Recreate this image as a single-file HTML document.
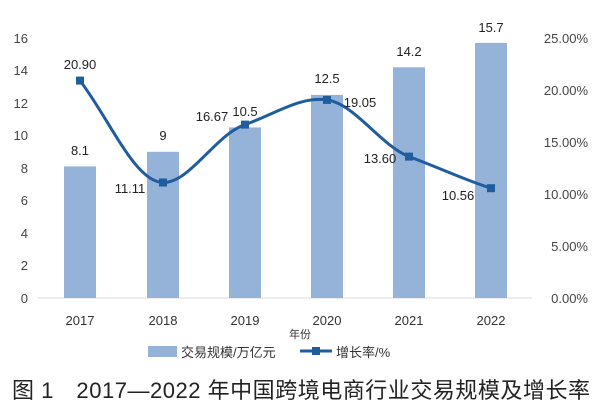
<!DOCTYPE html>
<html><head><meta charset="utf-8"><style>
html,body{margin:0;padding:0;background:#fff;}
svg text{font-family:"Liberation Sans","Noto Sans CJK SC",sans-serif;}
</style></head><body>
<svg width="600" height="413" viewBox="0 0 600 413" xmlns="http://www.w3.org/2000/svg">
<rect width="600" height="413" fill="#fff"/>
<line x1="38" y1="298" x2="532" y2="298" stroke="#d9d9d9" stroke-width="1"/>
<g font-size="13" fill="#444" text-anchor="end">
<text x="28" y="43">16</text><text x="28" y="75">14</text><text x="28" y="108">12</text><text x="28" y="140">10</text>
<text x="28" y="173">8</text><text x="28" y="205">6</text><text x="28" y="238">4</text><text x="28" y="270">2</text><text x="28" y="303">0</text>
</g>
<g font-size="13" fill="#444" text-anchor="end">
<text x="588" y="43">25.00%</text><text x="588" y="95">20.00%</text><text x="588" y="147">15.00%</text>
<text x="588" y="199">10.00%</text><text x="588" y="251">5.00%</text><text x="588" y="303">0.00%</text>
</g>
<g fill="#95b2d8">
<rect x="64" y="166.4" width="32" height="131.6"/>
<rect x="147" y="151.8" width="32" height="146.2"/>
<rect x="229" y="127.4" width="32" height="170.6"/>
<rect x="311" y="94.9" width="32" height="203.1"/>
<rect x="393" y="67.3" width="32" height="230.7"/>
<rect x="475" y="42.9" width="32" height="255.1"/>
</g>
<g font-size="13" fill="#222" text-anchor="middle">
<text x="80" y="155">8.1</text><text x="163" y="140">9</text><text x="245" y="116">10.5</text>
<text x="327" y="83">12.5</text><text x="409" y="56">14.2</text><text x="491" y="32">15.7</text>
</g>
<path d="M80,80.6 C110,120 135,182 163,182.5 C190,183 215,135 245,124.6 C275,114 300,96 327,99.9 C355,104 380,145 409,156.6 C440,168 465,180 491,188.2" fill="none" stroke="#1f5d9e" stroke-width="3"/>
<g fill="#1f5d9e">
<rect x="76" y="76.6" width="8" height="8"/><rect x="159" y="178.5" width="8" height="8"/>
<rect x="241" y="120.6" width="8" height="8"/><rect x="323" y="95.9" width="8" height="8"/>
<rect x="405" y="152.6" width="8" height="8"/><rect x="487" y="184.2" width="8" height="8"/>
</g>
<g font-size="13" fill="#222" text-anchor="middle">
<text x="80" y="69">20.90</text><text x="130" y="193">11.11</text><text x="212" y="121">16.67</text>
<text x="360" y="107">19.05</text><text x="380" y="163">13.60</text><text x="458" y="200">10.56</text>
</g>
<g font-size="13" fill="#333" text-anchor="middle">
<text x="80" y="325">2017</text><text x="163" y="325">2018</text><text x="245" y="325">2019</text>
<text x="327" y="325">2020</text><text x="409" y="325">2021</text><text x="491" y="325">2022</text>
</g>
<text x="300" y="338" font-size="11" fill="#333" text-anchor="middle">年份</text>
<rect x="148" y="346" width="29" height="11" fill="#95b2d8"/>
<text x="181" y="357" font-size="13" fill="#333">交易规模/万亿元</text>
<line x1="300" y1="351" x2="332" y2="351" stroke="#1f5d9e" stroke-width="3"/>
<rect x="312" y="347" width="8" height="8" fill="#1f5d9e"/>
<text x="336" y="357" font-size="13" fill="#333">增长率/%</text>
<text x="12" y="398" font-size="22" fill="#222" textLength="578" lengthAdjust="spacing">图 1　2017—2022 年中国跨境电商行业交易规模及增长率</text>
</svg>
</body></html>
